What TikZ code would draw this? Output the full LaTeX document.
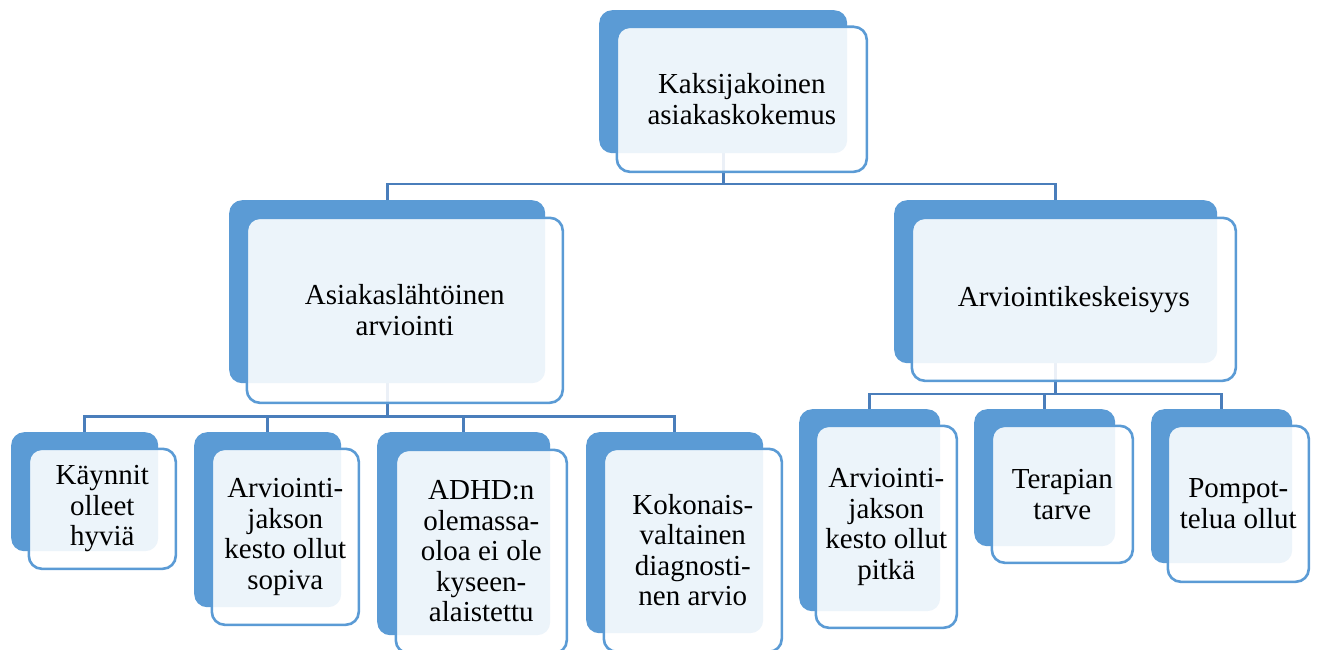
\documentclass[tikz,border=0pt]{standalone}
\usepackage{fontspec}
\setmainfont{Liberation Serif}
\usetikzlibrary{backgrounds}
\definecolor{accent}{HTML}{5B9BD5}
\definecolor{linkcol}{HTML}{4A7EBB}
\tikzset{
  x=1pt, y=-1pt,
  backbox/.style={fill=accent, draw=none, rounded corners=13pt, inner sep=0pt},
  frontbox/.style={fill=white, fill opacity=0.89, text opacity=1, draw=accent, draw opacity=1,
    line width=2.6pt, rounded corners=13pt, inner sep=0pt, align=center,
    font=\fontsize{29}{30.5}\selectfont},
  conn/.style={draw=linkcol, line width=2.6pt},
}
% \backrect{name}{x1}{y1}{x2}{y2}
\newcommand{\backrect}[5]{%
  \node[backbox, anchor=north west, minimum width=#4-#2, minimum height=#5-#3] (#1b) at (#2,#3) {};}
% \frontrect{name}{x1}{y1}{x2}{y2}{text}
\newcommand{\frontrect}[6]{%
  \node[frontbox, anchor=north west, minimum width=#4-#2, minimum height=#5-#3] (#1) at (#2,#3) {#6};}
\begin{document}
\begin{tikzpicture}
\useasboundingbox (0,0) rectangle (1335,650);
\backrect{top}{599}{10}{847}{153}
\frontrect{top}{615.5}{25.5}{865.5}{170.5}{Kaksijakoinen\\asiakaskokemus}
\backrect{asl}{229}{200}{545}{383}
\frontrect{asl}{245.5}{216.5}{561.5}{401.5}{Asiakaslähtöinen\\arviointi}
\backrect{ark}{894}{200}{1217}{363}
\frontrect{ark}{910.5}{216.5}{1234.5}{379.5}{Arviointikeskeisyys}
\backrect{kay}{11}{432}{158}{551}
\frontrect{kay}{27.5}{447.5}{174.5}{567.5}{Käynnit\\olleet\\hyviä}
\backrect{jso}{194}{432}{341}{607}
\frontrect{jso}{210.5}{447.5}{357.5}{623.5}{Arviointi-\\jakson\\kesto ollut\\sopiva}
\backrect{adh}{377}{432}{550}{635}
\frontrect{adh}{394.5}{448.5}{565.5}{652}{ADHD:n\\olemassa-\\oloa ei ole\\kyseen-\\alaistettu}
\backrect{kok}{586}{432}{763}{633}
\frontrect{kok}{602.5}{447.5}{780.5}{650.5}{Kokonais-\\valtainen\\diagnosti-\\nen arvio}
\backrect{jpi}{799}{409}{940}{611}
\frontrect{jpi}{814.5}{424.5}{955.5}{626.5}{Arviointi-\\jakson\\kesto ollut\\pitkä}
\backrect{ter}{974}{409}{1115}{546}
\frontrect{ter}{990.5}{424.5}{1131.5}{561.5}{Terapian\\tarve}
\backrect{pom}{1151}{409}{1292}{563}
\frontrect{pom}{1166.5}{424.5}{1307.5}{580.5}{Pompot-\\telua ollut}
\coordinate (bus1) at (0,184);
\coordinate (bus2) at (0,416.5);
\coordinate (bus3) at (0,394);
\begin{scope}[on background layer]
  \draw[conn] (topb.south) -- (topb.south |- bus1) -| (aslb.north);
  \draw[conn] (topb.south |- bus1) -| (arkb.north);
  \draw[conn] (aslb.south) -- (aslb.south |- bus2) -| (kayb.north);
  \draw[conn] (aslb.south |- bus2) -| (jsob.north);
  \draw[conn] (aslb.south |- bus2) -| (adhb.north);
  \draw[conn] (aslb.south |- bus2) -| (kokb.north);
  \draw[conn] (arkb.south) -- (arkb.south |- bus3) -| (jpib.north);
  \draw[conn] (arkb.south |- bus3) -| (terb.north);
  \draw[conn] (arkb.south |- bus3) -| (pomb.north);
\end{scope}
\end{tikzpicture}
\end{document}
